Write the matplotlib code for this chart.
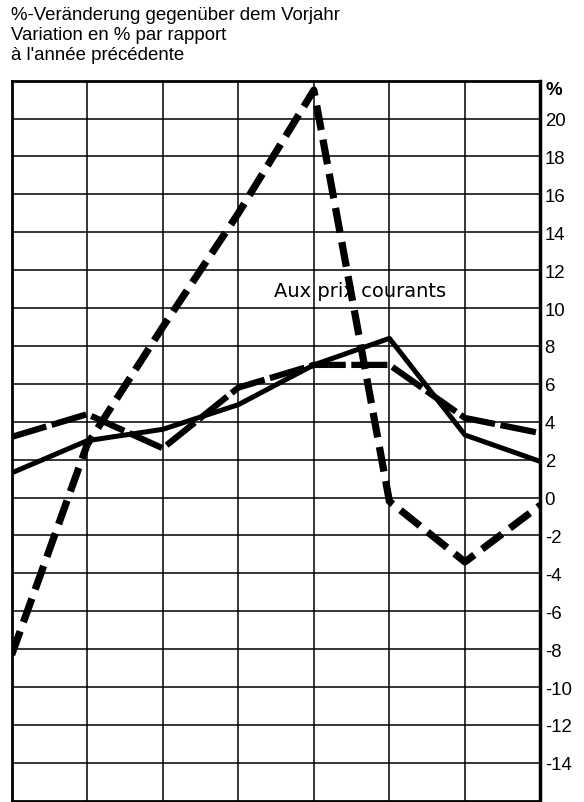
import matplotlib
matplotlib.use('Agg')
import matplotlib.pyplot as plt

plt.rcParams['font.family'] = ['Liberation Sans', 'DejaVu Sans']
plt.rcParams['lines.scale_dashes'] = False

# eight yearly points, no year labels in the original
periods = [0, 1, 2, 3, 4, 5, 6, 7]
current_prices = [-8.3, 2.8, 9.0, 15.0, 21.5, -0.2, -3.4, -0.4]
series_dashed = [3.2, 4.4, 2.6, 5.8, 7.0, 7.0, 4.2, 3.4]
series_solid = [1.3, 3.0, 3.6, 4.9, 7.0, 8.4, 3.3, 1.9]
y_ticks = list(range(-14, 21, 2))

fig = plt.figure(figsize=(5.84, 8.03), dpi=100)
ax = fig.add_axes([0.020, 0.0016, 0.9055, 0.8967])

ax.plot(periods, current_prices, color='black', lw=5.2, linestyle=(0, (18, 7)),
        solid_capstyle='butt', dash_capstyle='butt', zorder=4)
ax.plot(periods, series_dashed, color='black', lw=4.5, linestyle=(0, (26, 4)),
        dash_capstyle='butt', zorder=3)
ax.plot(periods, series_solid, color='black', lw=3.6, zorder=3)

ax.set_xlim(0, 7)
ax.set_ylim(-16, 22)
ax.set_xticks(periods)
ax.set_xticklabels([])
ax.tick_params(axis='x', length=0)
ax.yaxis.tick_right()
ax.set_yticks(y_ticks)
ax.set_yticklabels([str(v) for v in y_ticks])
ax.tick_params(axis='y', length=0, pad=3, labelsize=13.4)
ax.text(1.01, 21.55, '%', transform=ax.get_yaxis_transform(), fontsize=13.4,
        fontweight='bold', va='center', ha='left')

ax.grid(True, color='black', lw=1.1)
for s in ax.spines.values():
    s.set_linewidth(2)
ax.spines['right'].set_linewidth(2.5)

ax.text(3.47, 10.62, 'Aux prix courants', fontsize=14, va='baseline', ha='left',
        family='DejaVu Sans', zorder=2)

fig.text(0.019, 0.981, '%-Veränderung gegenüber dem Vorjahr', fontsize=13.4, va='center')
fig.text(0.019, 0.956, 'Variation en % par rapport', fontsize=13.4, va='center')
fig.text(0.019, 0.931, "à l'année précédente", fontsize=13.4, va='center')

fig.savefig('out.png', dpi=100)
